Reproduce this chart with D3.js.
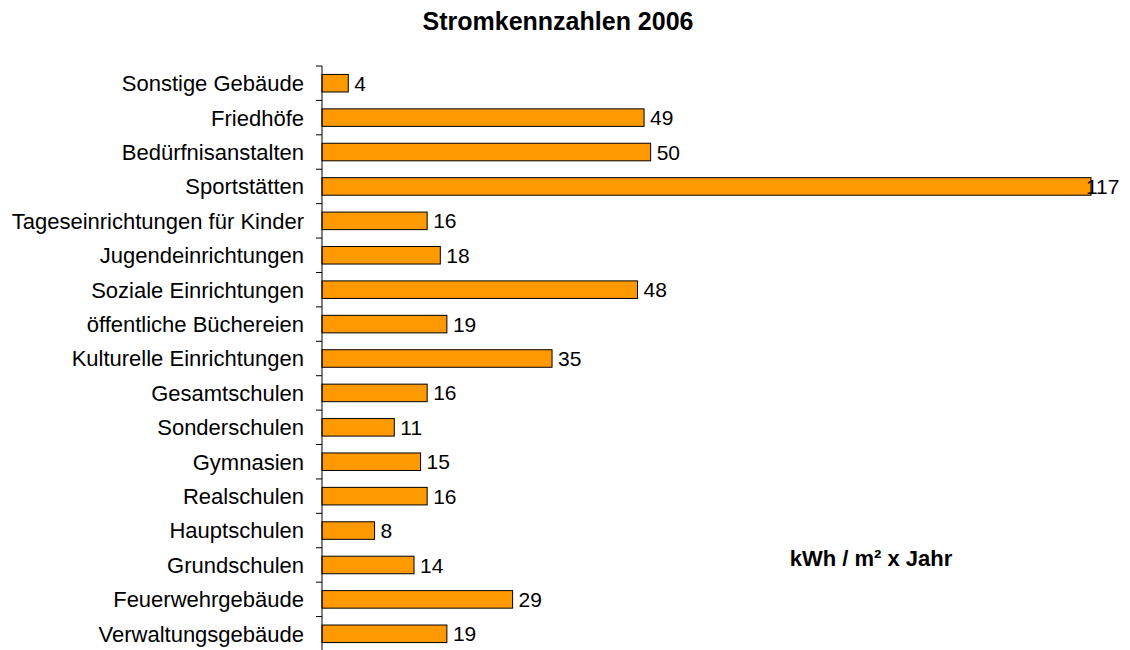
<!DOCTYPE html>
<html>
<head>
<meta charset="utf-8">
<script src="https://cdn.jsdelivr.net/npm/d3@7"></script>
<style>
  body { margin: 0; background: #fff; }
  text { font-family: "Liberation Sans", Arial, sans-serif; }
</style>
</head>
<body>
<div id="chart"></div>
<script>
const categories = [
  'Sonstige Gebäude',
  'Friedhöfe',
  'Bedürfnisanstalten',
  'Sportstätten',
  'Tageseinrichtungen für Kinder',
  'Jugendeinrichtungen',
  'Soziale Einrichtungen',
  'öffentliche Büchereien',
  'Kulturelle Einrichtungen',
  'Gesamtschulen',
  'Sonderschulen',
  'Gymnasien',
  'Realschulen',
  'Hauptschulen',
  'Grundschulen',
  'Feuerwehrgebäude',
  'Verwaltungsgebäude'
];
const values = [4, 49, 50, 117, 16, 18, 48, 19, 35, 16, 11, 15, 16, 8, 14, 29, 19];

const title = 'Stromkennzahlen 2006';
const unitLabel = 'kWh / m² x Jahr';

const width = 1130;
const height = 650;
const margin = { left: 322, top: 66, right: 39, bottom: 0 };

const svg = d3.select('#chart')
  .append('svg')
  .attr('width', width)
  .attr('height', height);

const x = d3.scaleLinear()
  .domain([0, 117])
  .range([margin.left, width - margin.right]);

const y = d3.scaleBand()
  .domain(categories)
  .range([margin.top, height - margin.bottom + 1])
  .paddingInner(0.49)
  .paddingOuter(0.245);

// category boundaries for the tick marks
const step = y.step();
const boundaries = d3.range(0, categories.length + 1)
  .map((i) => margin.top + i * step);

svg.append('g')
  .selectAll('rect')
  .data(values)
  .enter()
    .append('rect')
    .attr('x', x(0))
    .attr('y', (d, i) => y(categories[i]))
    .attr('width', (d) => x(d) - x(0))
    .attr('height', y.bandwidth())
    .attr('fill', '#ff9900')
    .attr('stroke', '#000')
    .attr('stroke-width', 1);

// axis line + ticks
const axis = svg.append('g').attr('stroke', '#000').attr('stroke-width', 1);
axis.append('line')
  .attr('x1', x(0)).attr('x2', x(0))
  .attr('y1', margin.top).attr('y2', height);
axis.selectAll('line.tick')
  .data(boundaries)
  .enter()
    .append('line')
    .attr('class', 'tick')
    .attr('x1', x(0) - 6).attr('x2', x(0))
    .attr('y1', (d) => d).attr('y2', (d) => d);

svg.append('g')
  .selectAll('text')
  .data(categories)
  .enter()
    .append('text')
    .attr('x', x(0) - 18)
    .attr('y', (d) => y(d) + y.bandwidth() / 2)
    .attr('dy', '0.36em')
    .attr('text-anchor', 'end')
    .attr('font-size', 22)
    .attr('fill', '#000')
    .text((d) => d);

svg.append('g')
  .selectAll('text')
  .data(values)
  .enter()
    .append('text')
    .attr('x', (d) => x(d) + (d > 100 ? -5 : 6))
    .attr('y', (d, i) => y(categories[i]) + y.bandwidth() / 2)
    .attr('dy', '0.36em')
    .attr('text-anchor', 'start')
    .attr('font-size', 21)
    .attr('fill', '#000')
    .text((d) => d);

svg.append('text')
  .attr('x', 558)
  .attr('y', 30)
  .attr('text-anchor', 'middle')
  .attr('font-size', 25)
  .attr('font-weight', 'bold')
  .text(title);

svg.append('text')
  .attr('x', 871)
  .attr('y', 566)
  .attr('text-anchor', 'middle')
  .attr('font-size', 22)
  .attr('font-weight', 'bold')
  .text(unitLabel);
</script>
</body>
</html>
